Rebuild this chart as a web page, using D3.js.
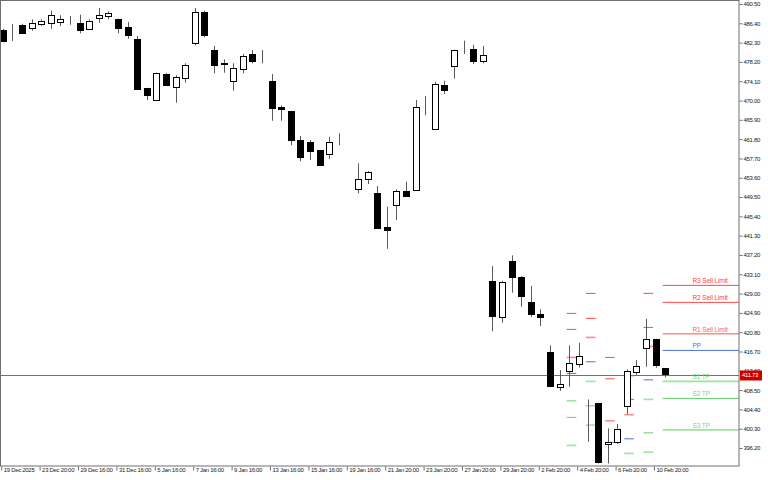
<!DOCTYPE html>
<html lang="en">
<head>
<meta charset="utf-8">
<title>Candles with pivot levels</title>
<script src="https://cdn.jsdelivr.net/npm/d3@7"></script>
<style>
body { margin: 0; background: #fff; }
text { font-family: "Liberation Sans", Arial, sans-serif; font-size: 6.5px; }
.axis text { font-size: 6px; letter-spacing: -0.3px; fill: #1a1a1a; }
</style>
</head>
<body>
<script>

//Width and height
var w = 768;
var h = 480;
var plotRight = 739;
var plotBottom = 466;

//Candles, one entry per bar
var open  = [484.98, 486.04, 486.00, 485.55, 486.10, 486.40, 486.68, 487.30, 486.53, 485.13,
             487.46, 487.95, 487.38, 485.55, 483.13, 472.66, 470.10, 475.63, 472.80, 474.93,
             482.28, 488.80, 480.73, 477.97, 474.08, 476.76, 479.88, 478.33, 474.20, 468.55,
             467.70, 461.60, 461.18, 459.48, 458.63, 460.90, 459.76, 451.13, 453.32, 450.41,
             443.12, 447.86, 450.83, 450.83, 468.47, 464.01, 473.35, 477.33, 480.66, 481.00,
             478.45, 431.59, 424.07, 435.84, 432.44, 427.19, 424.64, 416.57, 409.20, 412.47,
             414.02, 405.52, 405.67, 396.96, 397.38, 405.10, 412.47, 417.35, 419.27, 413.10];
var high  = [485.20, 486.25, 486.30, 487.25, 487.25, 489.08, 488.10, 487.95, 488.23, 487.25,
             489.65, 488.95, 487.40, 486.68, 483.70, 472.70, 475.90, 475.80, 475.35, 477.90,
             489.65, 489.08, 481.58, 478.75, 477.90, 479.88, 480.73, 480.73, 475.63, 468.98,
             467.75, 462.46, 461.60, 459.50, 462.30, 463.03, 459.76, 456.66, 455.02, 451.83,
             447.44, 451.13, 452.75, 470.10, 470.95, 473.93, 474.20, 480.80, 482.70, 481.85,
             481.58, 434.84, 431.72, 437.11, 432.71, 430.59, 425.64, 418.00, 412.74, 418.00,
             418.54, 406.52, 405.80, 400.36, 401.27, 412.89, 414.87, 423.64, 419.40, 413.20];
var low   = [482.40, 482.64, 484.30, 484.83, 485.83, 485.25, 485.83, 486.10, 484.28, 485.10,
             486.53, 487.25, 484.28, 483.13, 472.40, 470.10, 470.10, 473.10, 469.53, 473.78,
             481.73, 483.43, 475.78, 475.90, 472.08, 475.78, 477.90, 477.90, 465.70, 465.70,
             460.48, 457.08, 457.36, 456.08, 457.63, 460.48, 459.76, 450.28, 452.26, 443.00,
             438.51, 444.61, 449.56, 450.80, 466.85, 463.73, 471.38, 474.63, 479.88, 477.75,
             477.90, 420.97, 422.79, 429.17, 426.19, 424.07, 422.09, 409.30, 408.35, 409.20,
             413.32, 397.51, 392.90, 392.92, 397.02, 403.40, 411.75, 413.45, 413.23, 411.19];
var close = [482.64, 486.04, 484.40, 486.53, 486.83, 488.10, 487.38, 487.30, 484.98, 486.83,
             488.10, 488.52, 485.55, 483.85, 472.50, 471.23, 475.78, 473.23, 474.93, 477.60,
             488.80, 483.85, 477.48, 477.75, 476.90, 479.45, 478.33, 478.33, 468.55, 468.13,
             461.46, 458.06, 459.33, 456.36, 461.18, 460.90, 459.76, 453.32, 454.87, 443.06,
             442.48, 450.83, 449.86, 468.55, 468.47, 473.50, 472.23, 480.73, 480.66, 478.45,
             479.73, 424.07, 431.44, 432.44, 428.32, 424.64, 424.07, 409.34, 409.77, 414.17,
             415.72, 405.52, 393.05, 397.38, 400.15, 412.47, 413.66, 419.27, 413.80, 411.73];

//Time axis labels, one every 4 bars
var tickBars = [0, 4, 8, 12, 16, 20, 24, 28, 32, 36, 40, 44, 48, 52, 56, 60, 64, 68];
var tickLabels = ["19 Dec 2025", "23 Dec 20:00", "29 Dec 16:00", "31 Dec 16:00", "5 Jan 16:00",
                  "7 Jan 16:00", "9 Jan 16:00", "13 Jan 16:00", "15 Jan 16:00", "19 Jan 16:00",
                  "21 Jan 20:00", "23 Jan 20:00", "27 Jan 20:00", "29 Jan 20:00", "2 Feb 20:00",
                  "4 Feb 20:00", "6 Feb 20:00", "10 Feb 20:00"];

//Price axis labels
var yTicks = [490.50, 486.40, 482.30, 478.20, 474.10, 470.00, 465.90, 461.80, 457.70, 453.60,
              449.50, 445.40, 441.30, 437.20, 433.10, 429.00, 424.90, 420.80, 416.70, 412.60,
              408.50, 404.40, 400.30, 396.20];

//Daily pivot levels, starting at these bars
var pivotBars = [59, 61, 63, 65, 67, 69];
var r3 = [424.79, 429.04, 415.44, 411.53, 429.04, 430.74];
var r2 = [421.39, 423.73, 410.90, 406.52, 421.81, 427.13];
var r1 = [415.44, 419.69, 401.97, 403.27, 417.78, 420.46];
var pp = [412.04, 414.51, 397.38, 398.15, 410.68, 416.93];
var s1 = [406.22, 410.34, 391.50, 395.05, 406.52, 410.34];
var s2 = [402.70, 405.16, 387.00, 390.80, 399.42, 406.73];
var s3 = [396.75, 401.06, 381.00, 386.00, 395.32, 400.06];

var lastPrice = 411.73;

var levels = [
	{ name: "R3 Sell Limit", vals: r3, color: "#ff4848", text: "#ff4040", width: 1 },
	{ name: "R2 Sell Limit", vals: r2, color: "#ff4848", text: "#ff4040", width: 1 },
	{ name: "R1 Sell Limit", vals: r1, color: "#ff8c8c", text: "#ff5a5a", width: 1.6 },
	{ name: "PP",            vals: pp, color: "#4a72dc", text: "#4a72dc", width: 1 },
	{ name: "S1 TP",         vals: s1, color: "#9be69b", text: "#7cd67c", width: 1.6 },
	{ name: "S2 TP",         vals: s2, color: "#66d066", text: "#7cd67c", width: 1 },
	{ name: "S3 TP",         vals: s3, color: "#9be69b", text: "#7cd67c", width: 1.6 }
];

//Scales
var x = d3.scaleLinear()
			.domain([0, open.length - 1])
			.range([2.7, 2.7 + 9.6 * (open.length - 1)]);
var step = x(1) - x(0);
var bodyW = 6;

var y = d3.scaleLinear()
			.domain([396.2, 490.5])
			.range([448, 4]);

//Create SVG element
var svg = d3.select("body")
			.append("svg")
			.attr("width", w)
			.attr("height", h);

svg.append("rect").attr("width", w).attr("height", h).attr("fill", "#fff");

svg.append("clipPath")
	.attr("id", "plot")
	.append("rect")
	.attr("x", 0).attr("y", 0)
	.attr("width", plotRight).attr("height", plotBottom);

var plot = svg.append("g").attr("clip-path", "url(#plot)");

//Last price line (behind candles)
var py = Math.round(y(lastPrice)) + 0.5;
plot.append("line")
	.attr("x1", 0).attr("x2", plotRight)
	.attr("y1", py).attr("y2", py)
	.attr("stroke", "#d04848")
	.attr("stroke-width", 1);

//Pivot dashes
var last = pivotBars.length - 1;
levels.forEach(function(lv) {
	plot.selectAll(null)
		.data(pivotBars)
		.enter()
		.append("line")
		.attr("x1", function(b) { return x(b) - 0.25 * step; })
		.attr("x2", function(b, i) { return i === last ? plotRight : x(b) + 0.75 * step; })
		.attr("y1", function(b, i) { return y(lv.vals[i]); })
		.attr("y2", function(b, i) { return y(lv.vals[i]); })
		.attr("stroke", lv.color)
		.attr("stroke-width", lv.width);

	plot.append("text")
		.attr("x", plotRight - 46.5)
		.attr("y", y(lv.vals[last]) - 2)
		.attr("fill", lv.text)
		.style("letter-spacing", "-0.1px")
		.text(lv.name);
});

//Candles
var bars = plot.selectAll("g.bar")
			.data(d3.range(open.length))
			.enter()
			.append("g")
			.attr("class", "bar");

bars.append("line")
	.attr("x1", function(i) { return Math.round(x(i)) + 0.5; })
	.attr("x2", function(i) { return Math.round(x(i)) + 0.5; })
	.attr("y1", function(i) { return y(high[i]); })
	.attr("y2", function(i) { return y(low[i]); })
	.attr("stroke", "#5a5a5a")
	.attr("stroke-width", 1);

bars.append("rect")
	.attr("x", function(i) { return Math.round(x(i)) - bodyW / 2 + 0.5; })
	.attr("y", function(i) { return Math.round(y(Math.max(open[i], close[i]))) + 0.5; })
	.attr("width", bodyW)
	.attr("height", function(i) {
		return Math.max(0, Math.round(y(Math.min(open[i], close[i])) - y(Math.max(open[i], close[i]))));
	})
	.attr("fill", function(i) { return close[i] < open[i] ? "#000" : "#fff"; })
	.attr("stroke", "#000")
	.attr("stroke-width", 1);

//Frame
svg.append("rect")
	.attr("x", 0.5).attr("y", 0.5)
	.attr("width", plotRight - 0.5).attr("height", plotBottom - 0.5)
	.attr("fill", "none")
	.attr("stroke", "#6e6e6e");

//Price axis
var yAxis = d3.axisRight(y)
			.tickValues(yTicks)
			.tickFormat(d3.format(".2f"))
			.tickSize(3)
			.tickPadding(1);
var ya = svg.append("g")
	.attr("class", "axis")
	.attr("transform", "translate(" + (plotRight + 0.5) + ",0)")
	.call(yAxis);
ya.select(".domain").remove();
ya.selectAll("line").attr("stroke", "#6e6e6e");
ya.selectAll("text").attr("font-family", null).attr("font-size", null).attr("fill", null);

//Time axis
var xAxis = d3.axisBottom(x)
			.tickValues(tickBars)
			.tickFormat(function(d, i) { return tickLabels[i]; })
			.tickSize(4);
var xa = svg.append("g")
	.attr("class", "axis")
	.attr("transform", "translate(0," + (plotBottom + 0.5) + ")")
	.call(xAxis);
xa.select(".domain").remove();
xa.selectAll(".tick line").attr("stroke", "#6e6e6e").attr("transform", "translate(-1.5,0)");
xa.selectAll("text")
	.attr("text-anchor", "start")
	.attr("x", 0.5)
	.attr("y", 1.5)
	.attr("fill", null);

//Last price tag
svg.append("rect")
	.attr("x", plotRight + 1)
	.attr("y", py - 5)
	.attr("width", 22)
	.attr("height", 10)
	.attr("fill", "#c80000");
svg.append("text")
	.attr("x", plotRight + 3)
	.attr("y", py)
	.attr("dy", "0.32em")
	.attr("fill", "#fff")
	.style("font-size", "6px")
	.style("letter-spacing", "-0.3px")
	.text(d3.format(".2f")(lastPrice));

</script>
</body>
</html>
